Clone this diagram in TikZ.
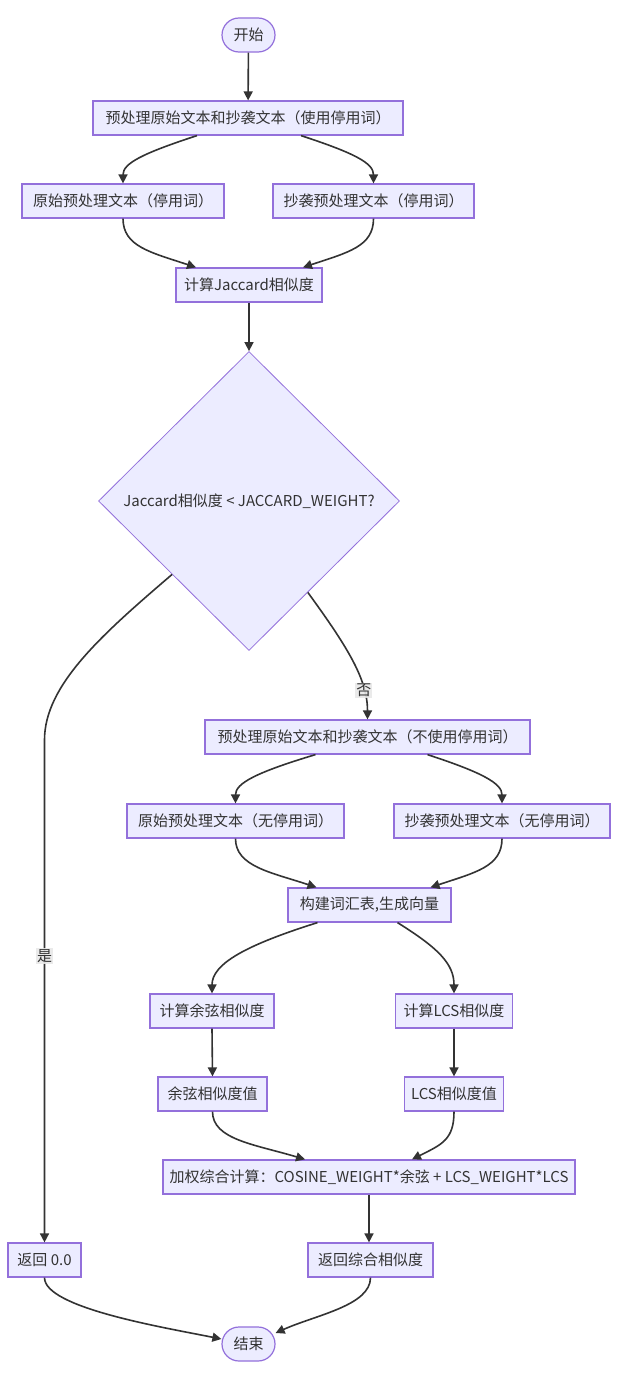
\documentclass[tikz,border=0pt]{standalone}
\usepackage{fontspec}
\setmainfont{Noto Sans CJK SC}
\usetikzlibrary{shapes.geometric,arrows.meta,calc}
\definecolor{nodefill}{HTML}{ECECFF}
\definecolor{nodedraw}{HTML}{9370DB}
\definecolor{edgec}{HTML}{333333}
\definecolor{lblbg}{HTML}{E8E8E8}
\begin{document}
\begin{tikzpicture}[x=1pt,y=-1pt,
  box/.style={draw=nodedraw, fill=nodefill, line width=1.2pt, text=edgec, inner sep=0pt, minimum height=34pt, font=\fontsize{15pt}{17pt}\selectfont},
  term/.style={box, rounded corners=17pt, minimum width=53pt},
  dec/.style={diamond, draw=nodedraw, fill=nodefill, line width=0.8pt, text=edgec, inner sep=0pt, minimum width=301pt, minimum height=299pt, font=\fontsize{15pt}{17pt}\selectfont},
  arr/.style={draw=edgec, line width=1.6pt, -{Triangle[length=9pt,width=9pt]}},
  lbl/.style={fill=lblbg, fill opacity=0.9, text opacity=1, text=edgec, inner sep=1pt, font=\fontsize{15pt}{17pt}\selectfont}]
\fill[white] (0,0) rectangle (618,1378);
\useasboundingbox (0,0) rectangle (618,1378);

\node[term] (start) at (248.5,35) {开始};
\node[box, minimum width=310pt] (p1) at (248,118) {预处理原始文本和抄袭文本（使用停用词）};
\node[box, minimum width=202pt] (o1) at (123,201) {原始预处理文本（停用词）};
\node[box, minimum width=201pt] (c1) at (373.5,201) {抄袭预处理文本（停用词）};
\node[box, minimum width=146pt] (jac) at (249,285) {计算Jaccard相似度};
\node[dec] (d) at (249,501) {Jaccard相似度 < JACCARD\_WEIGHT?};
\node[box, minimum width=325pt] (p2) at (367.5,737) {预处理原始文本和抄袭文本（不使用停用词）};
\node[box, minimum width=217pt] (o2) at (235.5,821) {原始预处理文本（无停用词）};
\node[box, minimum width=216pt] (c2) at (502,821) {抄袭预处理文本（无停用词）};
\node[box, minimum width=163pt] (voc) at (369.5,905) {构建词汇表,生成向量};
\node[box, minimum width=124pt] (cos) at (212,1011) {计算余弦相似度};
\node[box, minimum width=117pt] (lcs) at (454,1011) {计算LCS相似度};
\node[box, minimum width=109pt] (cosv) at (212.5,1094) {余弦相似度值};
\node[box, minimum width=99pt] (lcsv) at (454,1094) {LCS相似度值};
\node[box, minimum width=412pt] (w) at (369,1177) {加权综合计算：COSINE\_WEIGHT*余弦 + LCS\_WEIGHT*LCS};
\node[box, minimum width=73pt] (r0) at (44.5,1260) {返回 0.0};
\node[box, minimum width=125pt] (rs) at (370.5,1260) {返回综合相似度};
\node[term] (end) at (248.5,1344) {结束};
\coordinate (yb) at (44.5,740);

\draw[arr] (start) -- (p1);
\draw[arr] ($(p1.south)+(-51,0)$) .. controls +(-55,18) and +(0,-20) .. (o1.north);
\draw[arr] ($(p1.south)+(53,0)$) .. controls +(55,18) and +(0,-20) .. (c1.north);
\draw[arr] (o1.south) .. controls +(0,28) and +(-45,-15) .. ($(jac.north)+(-53,0)$);
\draw[arr] (c1.south) .. controls +(0,28) and +(45,-15) .. ($(jac.north)+(54,0)$);
\draw[arr] (jac.south) -- (d.north);
\draw[arr] ($(d.west)!0.49!(d.south)$) .. controls +(-70,60) and +(0,-55) .. (yb) -- node[lbl,pos=0.43] (yes) {是} (r0.north);
\draw[arr] ($(d.east)!0.61!(d.south)$) .. controls +(40,55) and +(0,-40) .. (p2.north) node[lbl,pos=0.75] (no) {否};
\draw[arr] ($(p2.south)+(-52,0)$) .. controls +(-60,18) and +(0,-20) .. (o2.north);
\draw[arr] ($(p2.south)+(60,0)$) .. controls +(55,18) and +(0,-20) .. (c2.north);
\draw[arr] (o2.south) .. controls +(0,28) and +(-45,-15) .. ($(voc.north)+(-53,0)$);
\draw[arr] (c2.south) .. controls +(0,28) and +(45,-15) .. ($(voc.north)+(61,0)$);
\draw[arr] ($(voc.south)+(-52,0)$) .. controls +(-70,22) and +(0,-30) .. (cos.north);
\draw[arr] ($(voc.south)+(28,0)$) .. controls +(40,25) and +(0,-30) .. (lcs.north);
\draw[arr] (cos.south) -- (cosv.north);
\draw[arr] (lcs.south) -- (lcsv.north);
\draw[arr] (cosv.south) .. controls +(0,28) and +(-50,-15) .. ($(w.north)+(-64,0)$);
\draw[arr] (lcsv.south) .. controls +(0,28) and +(30,-15) .. ($(w.north)+(43,0)$);
\draw[arr] (w.south) -- (w.south |- rs.north);
\draw[arr] (r0.south) .. controls +(0,30) and +(-60,-12) .. ($(end.west)+(0,-5)$);
\draw[arr] (rs.south) .. controls +(0,28) and +(40,-18) .. ($(end.east)+(0,-11)$);
\end{tikzpicture}
\end{document}
